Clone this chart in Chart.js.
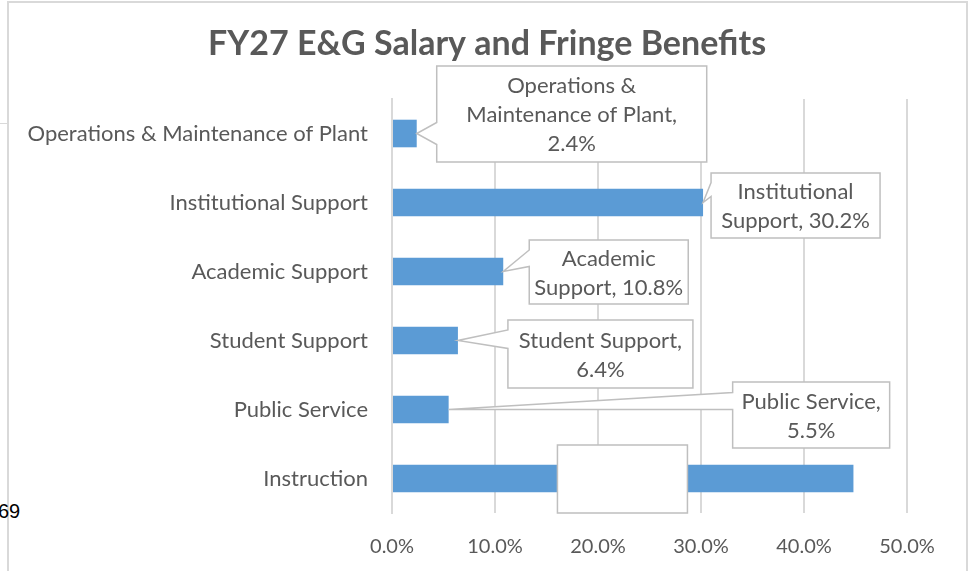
<!DOCTYPE html>
<html lang="en">
  <head>
    <meta charset="UTF-8" />
    <title>FY27 E&amp;G Salary and Fringe Benefits</title>
    <script src="https://cdn.jsdelivr.net/npm/chart.js"></script>
    <style>
      body {
        margin: 0;
        background: #fff;
        font-family: Lato, sans-serif;
      }
      .wrap {
        position: relative;
        width: 973px;
        height: 571px;
        overflow: hidden;
      }
      #chart {
        position: absolute;
        left: 0;
        top: 0;
      }
      /* leftovers from the surrounding page */
      .frame {
        position: absolute;
        left: 7px;
        top: 1px;
        width: 957px;
        height: 600px;
        border: 2px solid #d9d9d9;
      }
      .stub {
        position: absolute;
        left: 0;
        top: 123px;
        width: 7px;
        height: 1px;
        background: #d9d9d9;
      }
      .page-no {
        position: absolute;
        left: -2px;
        top: 500px;
        font: 20px "Liberation Sans", Arial, sans-serif;
        color: #000;
      }
    </style>
  </head>
  <body>
    <div class="wrap">
      <div class="frame"></div>
      <div class="stub"></div>
      <div class="page-no">69</div>
      <canvas id="chart" width="973" height="571"></canvas>
    </div>

    <script>
      // Data (percent of total)
      const categories = [
        "Operations & Maintenance of Plant",
        "Institutional Support",
        "Academic Support",
        "Student Support",
        "Public Service",
        "Instruction",
      ];
      const shares = [2.4, 30.2, 10.8, 6.4, 5.5, 44.8];
      const xTicks = [0, 10, 20, 30, 40, 50];

      const grey = "#595959";
      const font = "Lato, sans-serif";

      // callout boxes, offsets from the end of each bar
      const callouts = [
        { dx: 20, dy: -67.5, w: 270, h: 96, base: [-11, 11], wrap: 232 },
        { dx: 8, dy: -29.5, w: 169, h: 65, base: [-20, -6], wrap: 166 },
        { dx: 26, dy: -31.5, w: 159, h: 64, base: [-21.5, -5], wrap: 166 },
        { dx: 50, dy: -20.5, w: 185, h: 68, base: [-10.5, 8], wrap: 182 },
        { dx: 284, dy: -27.5, w: 157, h: 66, base: [-17, 0], wrap: 160 },
        { dx: -296, dy: -33.5, w: 130, h: 68, base: null, blank: true },
      ];

      function wrapText(ctx, text, maxW) {
        const words = text.split(" ");
        const lines = [];
        let cur = "";
        words.forEach((w) => {
          const t = cur ? cur + " " + w : w;
          if (cur && ctx.measureText(t).width > maxW) {
            lines.push(cur);
            cur = w;
          } else {
            cur = t;
          }
        });
        if (cur) lines.push(cur);
        return lines;
      }

      const calloutPlugin = {
        id: "callouts",
        afterDatasetsDraw(chart) {
          const ctx = chart.ctx;
          const meta = chart.getDatasetMeta(0);
          ctx.save();
          ctx.font = "22px " + font;
          meta.data.forEach((bar, i) => {
            const c = callouts[i];
            const xe = bar.x;
            const yc = bar.y;
            const bx = xe + c.dx;
            const by = yc + c.dy;

            ctx.beginPath();
            ctx.moveTo(bx, by);
            ctx.lineTo(bx + c.w, by);
            ctx.lineTo(bx + c.w, by + c.h);
            ctx.lineTo(bx, by + c.h);
            if (c.base) {
              ctx.lineTo(bx, yc + c.base[1]);
              ctx.lineTo(xe, yc);
              ctx.lineTo(bx, yc + c.base[0]);
            }
            ctx.closePath();
            ctx.fillStyle = "#fff";
            ctx.fill();
            ctx.strokeStyle = "#bfbfbf";
            ctx.lineWidth = 1.5;
            ctx.stroke();

            if (c.blank) return;
            const label = categories[i] + ", " + shares[i].toFixed(1) + "%";
            const lines = wrapText(ctx, label, c.wrap);
            const lh = 29;
            const y0 = by + c.h / 2 - ((lines.length - 1) * lh) / 2 + 1;
            ctx.fillStyle = grey;
            ctx.textAlign = "center";
            ctx.textBaseline = "middle";
            lines.forEach((ln, k) => {
              ctx.fillText(ln, bx + c.w / 2, y0 + k * lh);
            });
          });

          // title
          ctx.font = "bold 34px " + font;
          ctx.fillStyle = grey;
          ctx.textAlign = "center";
          ctx.textBaseline = "middle";
          ctx.fillText("FY27 E&G Salary and Fringe Benefits", 487, 44);
          ctx.restore();
        },
      };

      new Chart(document.getElementById("chart"), {
        type: "bar",
        data: {
          labels: categories,
          datasets: [
            {
              data: shares,
              backgroundColor: "#5b9bd5",
              borderWidth: 0,
              categoryPercentage: 1,
              barPercentage: 0.4,
            },
          ],
        },
        options: {
          indexAxis: "y",
          responsive: false,
          animation: false,
          layout: { padding: { top: 99, left: 8, right: 66, bottom: 0 } },
          plugins: {
            legend: { display: false },
            tooltip: { enabled: false },
            title: { display: false },
          },
          scales: {
            x: {
              min: 0,
              max: 50,
              afterBuildTicks: (s) => {
                s.ticks = xTicks.map((v) => ({ value: v }));
              },
              afterFit: (s) => {
                s.height = 58;
              },
              grid: { color: "#d9d9d9", lineWidth: 2, drawTicks: false },
              border: { display: false },
              ticks: {
                padding: 22,
                color: grey,
                font: { family: font, size: 20 },
                callback: (v) => v.toFixed(1) + "%",
              },
            },
            y: {
              afterFit: (s) => {
                s.width = 384;
              },
              grid: { display: false, drawTicks: false },
              border: { display: true, color: "#d9d9d9", width: 2 },
              ticks: {
                padding: 24,
                color: grey,
                font: { family: font, size: 22 },
              },
            },
          },
        },
        plugins: [calloutPlugin],
      });
    </script>
  </body>
</html>
